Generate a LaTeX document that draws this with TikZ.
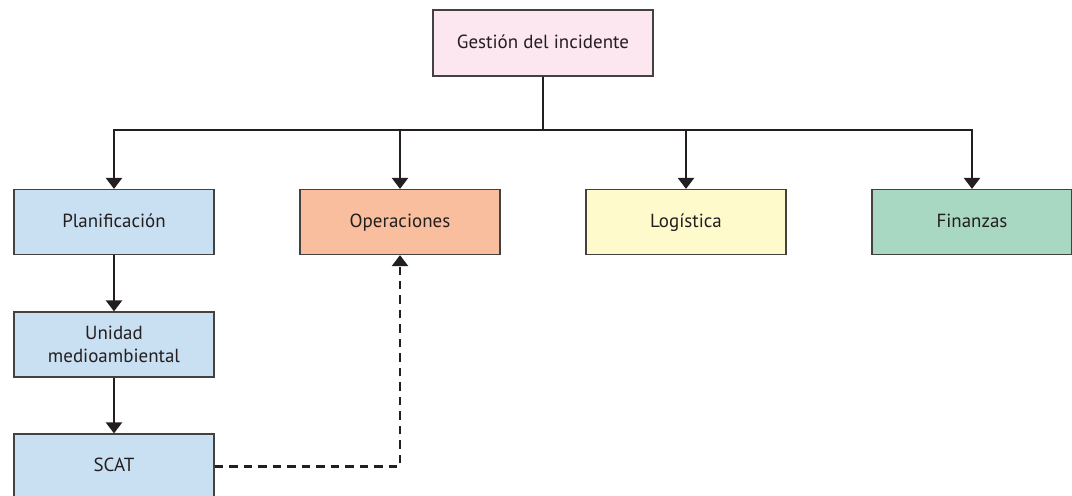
\documentclass[tikz,border=0pt]{standalone}
\usepackage{fontspec}
\setmainfont{PT Sans}
\usetikzlibrary{arrows.meta}

\definecolor{gestpink}{HTML}{FCE6F0}
\definecolor{planblue}{HTML}{C9DFF2}
\definecolor{opsalmon}{HTML}{F8BE9E}
\definecolor{logyellow}{HTML}{FFFACC}
\definecolor{fingreen}{HTML}{A8D8C2}
\definecolor{inkgray}{HTML}{231F20}

\begin{document}
\begin{tikzpicture}[x=0.02cm,y=-0.02cm,
  unit/.style={draw=inkgray!85,line width=0.7pt,minimum width=4cm,minimum height=1.3cm,
    align=center,font=\fontsize{10.8}{13.5}\selectfont,text=inkgray},
  oneline/.style={text height=1.6ex,text depth=0.45ex},
  conn/.style={draw=inkgray,line width=1.4pt,-{Triangle[width=0.32cm,length=0.22cm]}}]
\useasboundingbox (0,0) rectangle (1072,495);
% Top of the chain
\node[unit,oneline,fill=gestpink,minimum width=4.4cm,minimum height=1.32cm] (top) at (543,43) {Gestión del incidente};
% Sections
\node[unit,oneline,fill=planblue] (plan) at (114,222) {Planificación};
\node[unit,oneline,fill=opsalmon] (oper) at (400,222) {Operaciones};
\node[unit,oneline,fill=logyellow] (logi) at (686,222) {Logística};
\node[unit,oneline,fill=fingreen] (fin) at (972,222) {Finanzas};
% Planning branch
\node[unit,fill=planblue] (unid) at (114,344.5) {Unidad\\medioambiental};
\node[unit,oneline,fill=planblue] (scat) at (114,466.5) {SCAT};
% Connectors
\coordinate (bus) at (543,130);
\foreach \n in {plan,oper,logi,fin} {
  \draw[conn] (top.south) -- (top.south |- bus) -| (\n.north);
}
\draw[conn] (plan) -- (unid);
\draw[conn] (unid) -- (scat);
\draw[conn,dash pattern=on 0.17cm off 0.12cm] (scat.east) -| (oper.south);
\end{tikzpicture}
\end{document}
